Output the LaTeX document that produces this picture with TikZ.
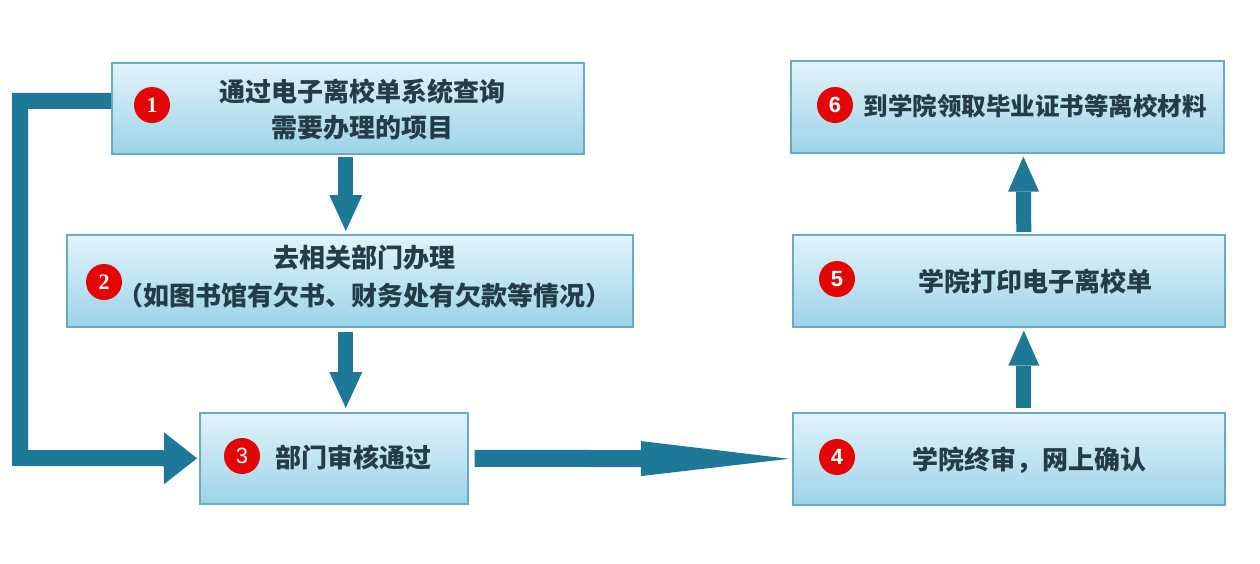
\documentclass[tikz,border=0pt]{standalone}
\usepackage{fontspec}
\newfontfamily\cjk{Noto Sans CJK SC}
\newfontfamily\numserif{Liberation Serif}
\newfontfamily\numsans{Liberation Sans}
\usetikzlibrary{arrows.meta,calc,positioning}
\definecolor{arrcol}{RGB}{30,121,152}
\definecolor{boxtop}{RGB}{226,243,250}
\definecolor{boxbot}{RGB}{156,212,232}
\definecolor{boxedge}{RGB}{104,172,196}
\definecolor{txtcol}{RGB}{36,60,72}
\definecolor{badgered}{RGB}{228,6,6}
\tikzset{
  stepbox/.style={draw=boxedge, line width=1.6pt, top color=boxtop, bottom color=boxbot,
    inner sep=0pt, anchor=north west},
  label/.style={text=txtcol, font=\cjk\bfseries\fontsize{26}{36}\selectfont, align=center, inner sep=0pt},
  badge/.style={circle, fill=badgered, text=white, minimum size=36pt, inner sep=0pt},
  arr/.style={draw=arrcol, line width=15pt},
}
\begin{document}
\begin{tikzpicture}[x=1pt,y=-1pt]
\useasboundingbox (0,0) rectangle (1260,563);
\fill[white] (0,0) rectangle (1260,563);
% boxes
\node[stepbox, minimum width=472pt, minimum height=91pt] (b1) at (111,62) {};
\node[stepbox, minimum width=566pt, minimum height=92pt] (b2) at (66,234) {};
\node[stepbox, minimum width=268pt, minimum height=91pt] (b3) at (199,412) {};
\node[stepbox, minimum width=432pt, minimum height=92pt] (b4) at (792,412) {};
\node[stepbox, minimum width=432pt, minimum height=92pt] (b5) at (792,234) {};
\node[stepbox, minimum width=433pt, minimum height=92pt] (b6) at (790,60) {};
% badges
\node[badge, font=\numserif\bfseries\fontsize{22}{22}\selectfont] (n1) at (152,105) {1};
\node[badge, font=\numserif\bfseries\fontsize{22}{22}\selectfont] (n2) at (104,282) {2};
\node[badge, font=\numsans\fontsize{22}{22}\selectfont] (n3) at (242,456) {3};
\node[badge, font=\numsans\bfseries\fontsize{22}{22}\selectfont] (n4) at (837,457) {4};
\node[badge, font=\numsans\bfseries\fontsize{22}{22}\selectfont] (n5) at (837,279) {5};
\node[badge, font=\numsans\bfseries\fontsize{22}{22}\selectfont] (n6) at (835,105) {6};
% texts
\node[label] (t1) at (362,110) {通过电子离校单系统查询\\需要办理的项目};
\node[label, font=\cjk\bfseries\fontsize{26}{38}\selectfont] (t2) at (364,277) {去相关部门办理\\（如图书馆有欠书、财务处有欠款等情况）};
\node[label] (t3) at (353,457) {部门审核通过};
\node[label] (t4) at (1029,460) {学院终审，网上确认};
\node[label] (t5) at (1035,281) {学院打印电子离校单};
\node[label, font=\cjk\bfseries\fontsize{24.5}{30}\selectfont] (t6) at (1035,106) {到学院领取毕业证书等离校材料};
% connectors
\coordinate (lc) at (20,458);
\draw[arr, line width=16pt, line join=miter, -{Triangle[width=52pt,length=33pt,line width=0pt]}, shorten >=2pt]
  ($(b1.west)+(0,-7.5)$) -| (lc) -- (b3.west);
\draw[arr, -{Triangle[width=33pt,length=36pt,line width=0pt]}, shorten <=2pt, shorten >=3pt] ($(b1.south)+(-2,0)$) -- ($(b2.north)+(-4,0)$);
\draw[arr, -{Triangle[width=33pt,length=36pt,line width=0pt]}, shorten <=4pt, shorten >=4pt] ($(b2.south)+(-4,0)$) -- ($(b3.north)+(12,0)$);
\draw[arr, line width=17pt, -{Triangle[width=35pt,length=148pt,line width=0pt]}, shorten <=6pt, shorten >=3pt] (b3.east) -- (b4.west);
\draw[arr, -{Triangle[width=31pt,length=35pt,line width=0pt]}, shorten <=4pt, shorten >=3pt] ($(b4.north)+(15,0)$) -- ($(b5.south)+(15,0)$);
\draw[arr, -{Triangle[width=31pt,length=35pt,line width=0pt]}, shorten <=2pt, shorten >=3pt] ($(b5.north)+(15,0)$) -- ($(b6.south)+(16,0)$);
\end{tikzpicture}
\end{document}
